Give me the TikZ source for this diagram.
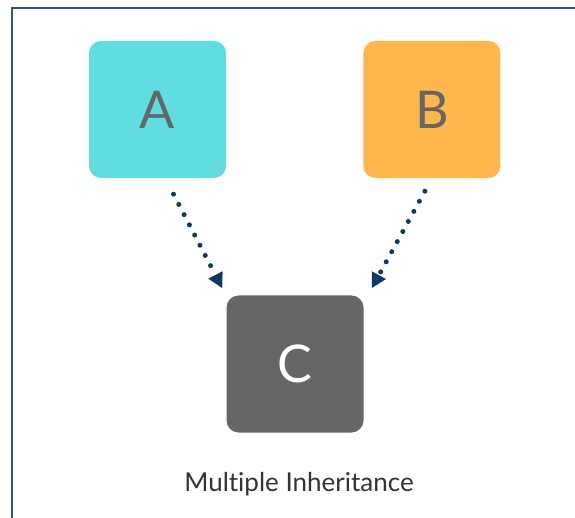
\documentclass[tikz,border=0pt]{standalone}
\usepackage{fontspec}
\setmainfont{Lato}[Ligatures=NoCommon]
\usepackage{tikz}
\usetikzlibrary{positioning, arrows.meta}
\definecolor{clsA}{HTML}{5FDDE0}
\definecolor{clsB}{HTML}{FFB64C}
\definecolor{clsC}{HTML}{666666}
\definecolor{navy}{HTML}{0C3966}
\definecolor{frame}{HTML}{2E5487}
\tikzset{
    cls/.style={rectangle, rounded corners=12pt, minimum size=137pt, inner sep=0pt, font=\fontsize{52}{52}\selectfont},
    parentA/.style={cls, fill=clsA, text=clsC},
    parentB/.style={cls, fill=clsB, text=clsC},
    child/.style={cls, fill=clsC, text=white},
    inherit/.style={navy, line width=5pt, line cap=round, dash pattern=on 0pt off 11.5pt, -{Triangle[length=15pt, width=15pt]}},
    caption/.style={font=\fontsize{26}{26}\selectfont, text=black!80},
}
\begin{document}
\begin{tikzpicture}[x=1pt, y=-1pt]
                        \useasboundingbox (0,0) rectangle (575,518);
                        \draw[frame, line width=1.5pt] (12,518) -- (12,8) -- (575,8);
                        \node [parentA] (a) at (157.5,109.5) {A};
                        \node [parentB] (b) [right=137pt of a] {B};
                        \node [child] (c) at (295,364) {C};
                        \node [caption] (lbl) at (299,484) {Multiple Inheritance};
                        \draw[inherit] ([xshift=16pt, yshift=-16pt]a.south) -- ([xshift=-4pt, yshift=7pt]c.north west);
                        \draw[inherit] ([xshift=-7pt, yshift=-13pt]b.south) -- ([xshift=8pt, yshift=7pt]c.north east);
                    \end{tikzpicture}
\end{document}
